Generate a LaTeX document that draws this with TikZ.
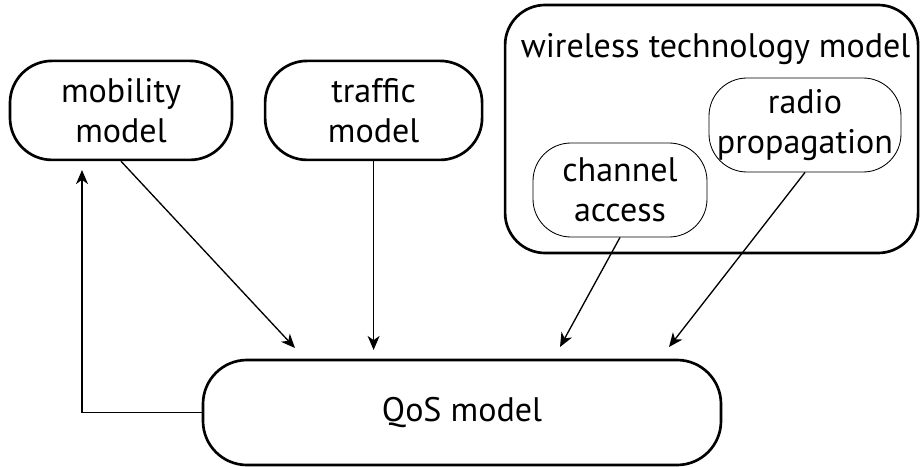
\documentclass[tikz,border=0pt]{standalone}
\usepackage{fontspec}
\setmainfont{PT Sans}
\usepackage{tikz}
\usetikzlibrary{arrows.meta}

\tikzset{
	model/.style={draw, line width=1.9pt, rounded corners=1.05cm, align=center,
		inner sep=0pt, minimum height=2.475cm,
		font=\fontsize{24.2}{28.5}\selectfont},
	submodel/.style={draw, line width=0.6pt, rounded corners=0.95cm, align=center,
		inner sep=0pt, minimum height=2.35cm,
		font=\fontsize{24.2}{28.5}\selectfont},
	link/.style={line width=0.95pt, -{Stealth[length=10pt,width=8.5pt,inset=3pt]}}
}

\begin{document}
\begin{tikzpicture}
	\useasboundingbox (0,0) rectangle (23,11.65);
%	\draw[step=1,help lines] (0,0) grid (23,11.65);
	\node (mobility) at(3.025,8.89)[model, minimum width=5.55cm]{mobility\\model};
	\node (traffic) at(9.34,8.89)[model, minimum width=5.425cm]{traffic\\model};
	\node (wireless) at(17.79,8.425)[model, minimum width=10.325cm, minimum height=6.2cm, rounded corners=1cm]{};
	\node (wtitle) at(17.89,10.42)[font=\fontsize{24.2}{28.5}\selectfont]{wireless technology model};
	\node (channel) at(15.5,6.9)[submodel, minimum width=4.35cm]{channel\\access};
	\node (radio) at(20.125,8.525)[submodel, minimum width=4.8cm]{radio\\propagation};
	\node (qos) at(11.55,1.3375)[model, minimum width=12.95cm, minimum height=2.625cm, rounded corners=1.1cm]{QoS model};

	\coordinate (mobin) at (7.375,2.95);
	\coordinate (trafin) at (9.34,2.9);
	\coordinate (chanin) at (14.0,2.975);
	\coordinate (radin) at (16.725,2.975);
	\coordinate (mobret) at (2.05,7.4);

	\draw[link] (mobility.south) -- (mobin);
	\draw[link] (traffic.south) -- (trafin);
	\draw[link] (channel.south) -- (chanin);
	\draw[link] (radio.south) -- (radin);
	\draw[link] (qos.west) -| (mobret);
\end{tikzpicture}
\end{document}
